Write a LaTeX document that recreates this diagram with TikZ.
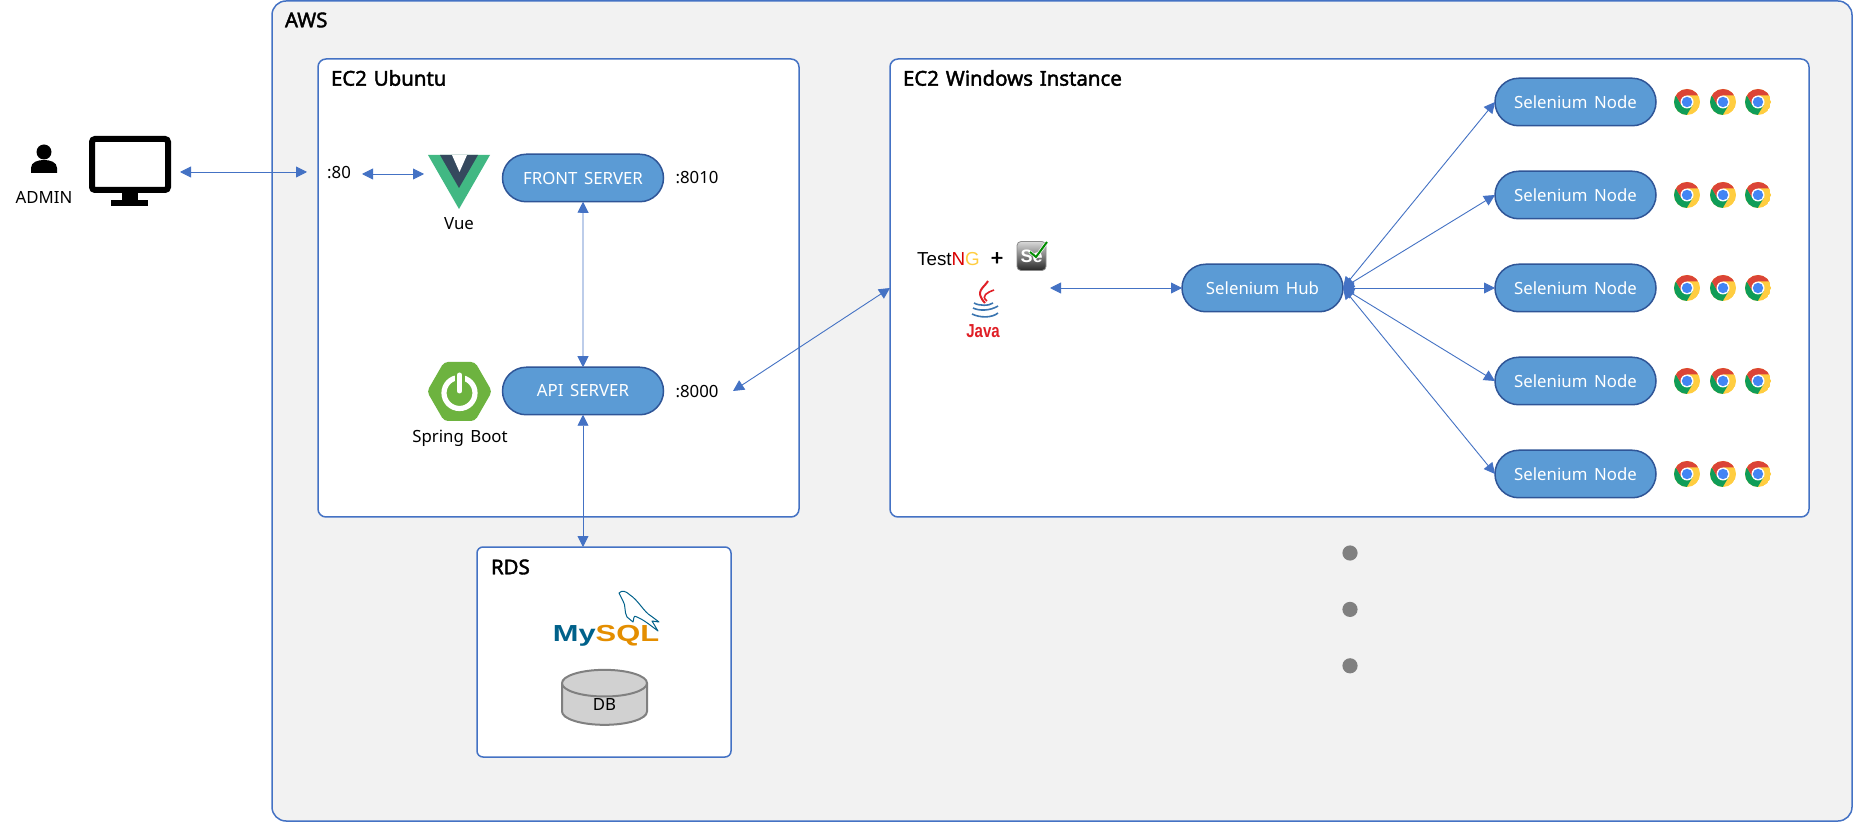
\documentclass[tikz,border=0pt]{standalone}
\usepackage{fontspec}
\setmainfont{Noto Sans}[WordSpace=1.5]
\newfontfamily\titlefont{Noto Sans}[FakeBold=2, WordSpace=1.3]
\newfontfamily\logofont{Liberation Sans}
\usetikzlibrary{arrows.meta, positioning}
\usetikzlibrary{shapes, shapes.misc, shapes.geometric}
\usetikzlibrary{calc}
\definecolor{edgeblue}{HTML}{4472C4}
\definecolor{pillblue}{HTML}{5B9BD5}
\definecolor{pilledge}{HTML}{2F5597}
\definecolor{vuegreen}{HTML}{41B883}
\definecolor{vuedark}{HTML}{35495E}
\definecolor{springgreen}{HTML}{6DB33F}
\definecolor{sqlblue}{HTML}{00618A}
\definecolor{sqlorange}{HTML}{E48E00}
\definecolor{javablue}{HTML}{3A75B0}
\definecolor{javared}{HTML}{E01F26}
\definecolor{chromered}{HTML}{DB4437}
\definecolor{chromeyellow}{HTML}{FFCD40}
\definecolor{chromegreen}{HTML}{0F9D58}
\definecolor{chromeblue}{HTML}{4285F4}

\tikzset{
  chrome/.pic={
    \begin{scope}
      \clip (0,0) circle[radius=13];
      \fill[chromeyellow] (0,0) circle[radius=13];
      \fill[chromegreen] (5.6,3.2) -- (-7.3,24.6) -- (-30,24.6) -- (-30,-18.6) -- (-17.7,-18.6) -- (-5.6,3.2) -- cycle;
      \fill[chromered] (0,-6.5) -- (20,-6.5) -- (20,-30) -- (-17.7,-30) -- (-17.7,-18.6) -- (-5.6,3.2) -- (0,0) -- cycle;
    \end{scope}
    \fill[white] (0,0) circle[radius=6.5];
    \fill[chromeblue] (0,0) circle[radius=5.2];
  },
  chromerow/.pic={
    \pic at (0,0) {chrome};
    \pic at (36,0) {chrome};
    \pic at (71,0) {chrome};
  }
}

\begin{document}
\begin{tikzpicture}[
  x=0.5pt, y=-0.5pt,
  every node/.style={font=\fontsize{8.4pt}{10pt}\selectfont, inner sep=0pt, outer sep=0pt},
  region/.style={rectangle, draw=edgeblue, line width=0.75pt, fill=white, rounded corners=4pt},
  boxtitle/.style={anchor=west, font=\titlefont\fontsize{10.2pt}{12pt}\selectfont},
  pill/.style={rounded rectangle, draw=pilledge, line width=0.75pt, fill=pillblue, text=white, minimum width=80.5pt, minimum height=23.75pt},
  link/.style={draw=edgeblue, line width=0.45pt, {Triangle[length=5.5pt,width=5.5pt]}-{Triangle[length=5.5pt,width=5.5pt]}},
  dotmark/.style={circle, fill=black!50, minimum size=7.6pt}
]
\useasboundingbox (0,0) rectangle (1853,823);

% Boxes
\node[region, rounded corners=7pt, fill=black!5, minimum width=790pt, minimum height=410pt] (aws) at (1062,411) {};
\node[region, minimum width=240.5pt, minimum height=229pt] (ubuntu) at (558.5,288) {};
\node[region, minimum width=459.5pt, minimum height=229pt] (windows) at (1349.5,288) {};
\node[region, rounded corners=3pt, minimum width=127pt, minimum height=105pt] (rds) at (604,652) {};

\node[boxtitle] (awstitle) at (285,20) {AWS};
\node[boxtitle] (ubuntutitle) at (331,78) {EC2 Ubuntu};
\node[boxtitle] (windowstitle) at (903,78) {EC2 Windows Instance};
\node[boxtitle] (rdstitle) at (491,567) {RDS};

% Admin
\fill (44,152) circle[radius=7.5];
\fill (31,173) -- (31,168) .. controls (31,162) and (38,160) .. (44,160) .. controls (50,160) and (57,162) .. (57,168) -- (57,173) -- cycle;
\node (admin) at (44,197) {ADMIN};
\node[rectangle, draw, line width=3pt, rounded corners=1.5pt, minimum width=38pt, minimum height=25.5pt] (monitor) at (130,164.5) {};
\fill (122,193) rectangle (138,200);
\fill (111,200) rectangle (148,206);

% Servers
\node[pill] (front) at (583,178) {FRONT SERVER};
\node[pill] (api) at (583,391) {API SERVER};
\node (port80) at (339,173) {:80};
\node (port8010) at (697,178) {:8010};
\node (port8000) at (697,392) {:8000};

% Vue logo
\fill[vuegreen] (428,155) -- (490,155) -- (459,209) -- cycle;
\fill[vuedark] (440,155) -- (478,155) -- (459,188) -- cycle;
\fill[white] (452,155) -- (467,155) -- (459.5,172) -- cycle;
\node (vue) at (459,224) {Vue};

% Spring logo
\fill[springgreen, rounded corners=2pt] (444,362) -- (475,362) -- (492,391.5) -- (475,421) -- (444,421) -- (427,391.5) -- cycle;
\draw[white, line width=2.6pt] (459.5,393) circle[radius=15.5];
\draw[springgreen, line width=5pt] (459.5,372) -- (459.5,386);
\draw[white, line width=2.5pt, line cap=round] (459.5,375) -- (459.5,391);
\node (spring) at (460,438) {Spring Boot};

% RDS
\node[anchor=base] (mysql) at (606,641) {\logofont\fontsize{11.6pt}{12pt}\selectfont\scalebox{1.33}[1]{\textbf{\textcolor{sqlblue}{My}\textcolor{sqlorange}{SQL}}}};
\draw[sqlblue, line width=0.5pt, line join=round] (619,593) .. controls (622,590) and (626,591) .. (630,595) .. controls (638,600) and (644,612) .. (651,616) -- (659,622) -- (652,621) -- (658,631) .. controls (650,625) and (644,620) .. (637,617) .. controls (633,614) and (634,620) .. (633,622) -- (627,617) .. controls (624,612) and (626,605) .. (623,601) -- cycle;
\node[cylinder, shape border rotate=90, aspect=1.15, draw=black!50, line width=1pt, fill=black!18, minimum width=42.5pt, minimum height=27.5pt] (db) at (604.5,704.5) {\raisebox{-1pt}{DB}};

% Test tools
\node (testng) at (948.5,259) {\logofont\fontsize{9.4pt}{10pt}\selectfont Test\textcolor{red!85!black}{N}\textcolor{chromeyellow}{G}};
\node (plus) at (997,259) {\titlefont\fontsize{11pt}{11pt}\selectfont +};
\node[rectangle, rounded corners=2pt, draw=black!45, top color=black!15, bottom color=black!85, minimum size=14.5pt, text=white] (selenium) at (1031.5,256) {\raisebox{-2pt}{\logofont\fontsize{9pt}{9pt}\selectfont\textbf{Se}}};
\draw[white, line width=1.6pt] (1030,252) -- (1036,257) -- (1047,242);
\draw[green!55!black, line width=1pt] (1030,252) -- (1036,257) -- (1047,242);
\draw[javared, line width=1pt] (988,281) .. controls (984,288) and (974,291) .. (985,303);
\draw[javared, line width=0.8pt] (994,290) .. controls (988,292) and (980,296) .. (987,301);
\draw[javablue, line width=0.8pt] (974,303) .. controls (979,306) and (989,306) .. (993,303);
\draw[javablue, line width=0.8pt] (973,308) .. controls (979,311) and (990,311) .. (998,306);
\draw[javablue, line width=0.8pt] (972,314) .. controls (980,318) and (992,318) .. (998,313);
\node (java) at (983,331) {\logofont\fontsize{9.4pt}{9pt}\selectfont\scalebox{0.8}[1]{\textbf{\textcolor{javared}{Java}}}};

% Selenium
\node[pill] (hub) at (1262.5,288) {Selenium Hub};
\node[pill] (N1) at (1575.5,102) {Selenium Node};
\node[pill, below=22.75pt of N1] (N2) {Selenium Node};
\node[pill, below=22.75pt of N2] (N3) {Selenium Node};
\node[pill, below=22.75pt of N3] (N4) {Selenium Node};
\node[pill, below=22.75pt of N4] (N5) {Selenium Node};

\pic at ($(N1)+(111.5,0)$) {chromerow};
\pic at ($(N2)+(111.5,0)$) {chromerow};
\pic at ($(N3)+(111.5,0)$) {chromerow};
\pic at ($(N4)+(111.5,0)$) {chromerow};
\pic at ($(N5)+(111.5,0)$) {chromerow};

\node[dotmark] (dot1) at (1350,553) {};
\node[dotmark, below=20.6pt of dot1] (dot2) {};
\node[dotmark, below=20.6pt of dot2] (dot3) {};

% Free ends
\coordinate (monitorout) at (180,172);
\coordinate (ubuntuin) at (307,172);
\coordinate (port80out) at (362,174);
\coordinate (vuein) at (424,174);
\coordinate (apiout) at (733,391);
\coordinate (testout) at (1050,288);

% Connections
\draw[link] (monitorout) -- (ubuntuin);
\draw[link] (port80out) -- (vuein);
\draw[link] (front) -- (api);
\draw[link] (api.south) -- (api.south |- rds.north);
\draw[link] (apiout) -- (windows.west);
\draw[link] (testout) -- (hub.west);
\draw[link] (hub.east) -- (N1.west);
\draw[link] (hub.east) -- (N2.west);
\draw[link] (hub.east) -- (N3.west);
\draw[link] (hub.east) -- (N4.west);
\draw[link] (hub.east) -- (N5.west);

\end{tikzpicture}
\end{document}
